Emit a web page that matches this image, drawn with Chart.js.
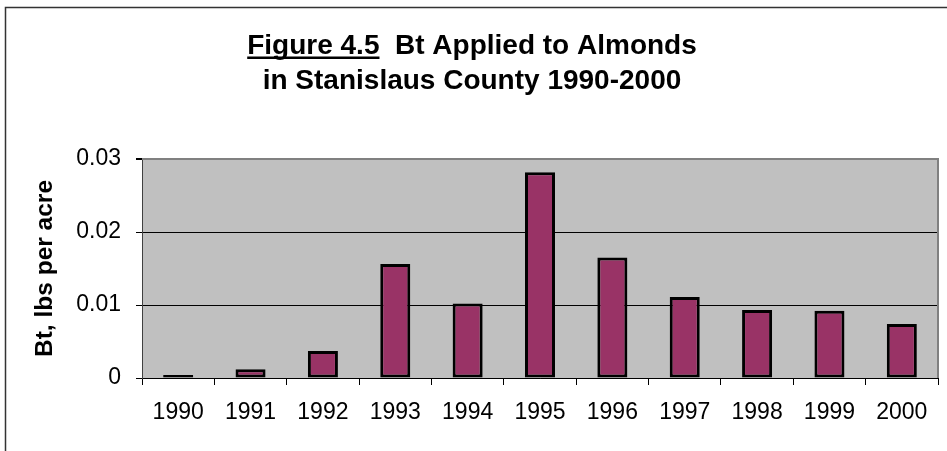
<!DOCTYPE html>
<html>
<head>
<meta charset="utf-8">
<script src="https://cdn.jsdelivr.net/npm/chart.js@4/dist/chart.umd.min.js"></script>
<style>
  body { margin: 0; background: #fff; }
  #wrap { width: 947px; height: 451px; }
</style>
</head>
<body>
<div id="wrap"><canvas id="myChart" width="947" height="451"></canvas></div>
<script>
// data
var years = ['1990', '1991', '1992', '1993', '1994', '1995', '1996', '1997', '1998', '1999', '2000'];
var btPerAcre = [0.0004, 0.0012, 0.0037, 0.0156, 0.0102, 0.0282, 0.0165, 0.0111, 0.0093, 0.0092, 0.0074];
var yTicks = [0, 0.01, 0.02, 0.03];
var titleLine1a = 'Figure 4.5';
var titleLine1b = '  Bt Applied to Almonds';
var titleLine2 = 'in Stanislaus County 1990-2000';
var yTitle = 'Bt, lbs per acre';

var FONT = '"Liberation Sans", Arial, sans-serif';

// grey plot area, outer frame, title with underlined figure number
var excelLook = {
	id: 'excelLook',
	beforeDraw: function (chart) {
		var ctx = chart.ctx;
		var a = chart.chartArea;
		ctx.save();
		ctx.fillStyle = '#fff';
		ctx.fillRect(0, 0, chart.width, chart.height);
		ctx.fillStyle = '#c0c0c0';
		ctx.fillRect(a.left, a.top, a.right - a.left, a.bottom - a.top);
		ctx.restore();
	},
	beforeDatasetsDraw: function (chart) {
		var ctx = chart.ctx;
		var a = chart.chartArea;
		ctx.save();
		ctx.strokeStyle = '#808080';
		ctx.lineWidth = 2;
		ctx.beginPath();
		ctx.moveTo(a.left, a.top);
		ctx.lineTo(a.right, a.top);
		ctx.lineTo(a.right, a.bottom);
		ctx.stroke();
		ctx.restore();
	},
	afterDraw: function (chart) {
		var ctx = chart.ctx;
		ctx.save();
		// outer frame
		ctx.strokeStyle = '#333';
		ctx.lineWidth = 1.5;
		ctx.strokeRect(5.5, 7.5, 1200, 1200);
		// title
		var cx = 472;
		ctx.fillStyle = '#000';
		ctx.font = 'bold 28px ' + FONT;
		ctx.textBaseline = 'alphabetic';
		var wa = ctx.measureText(titleLine1a).width;
		var wb = ctx.measureText(titleLine1b).width;
		var x0 = cx - (wa + wb) / 2;
		ctx.textAlign = 'left';
		ctx.fillText(titleLine1a, x0, 54);
		ctx.fillText(titleLine1b, x0 + wa, 54);
		ctx.fillRect(x0, 56.5, wa, 2.5);
		ctx.textAlign = 'center';
		ctx.fillText(titleLine2, cx, 89);
		ctx.restore();
	}
};

var ctx = document.getElementById('myChart').getContext('2d');
var chart = new Chart(ctx, {
	type: 'bar',
	data: {
		labels: years,
		datasets: [{
			data: btPerAcre,
			backgroundColor: '#993366',
			borderColor: '#000',
			borderWidth: 3,
			borderSkipped: false,
			barPercentage: 0.415,
			categoryPercentage: 1
		}]
	},
	options: {
		responsive: false,
		animation: false,
		layout: {
			padding: { top: 159, left: 0, right: 9, bottom: 0 }
		},
		plugins: {
			legend: { display: false },
			title: { display: false },
			tooltip: { enabled: false }
		},
		scales: {
			x: {
				offset: true,
				grid: {
					offset: true,
					drawOnChartArea: false,
					drawTicks: true,
					tickLength: 7,
					tickColor: '#000'
				},
				border: { color: '#000', width: 1 },
				ticks: {
					color: '#000',
					font: { family: FONT, size: 23 },
					padding: 14,
					maxRotation: 0,
					autoSkip: false
				},
				afterFit: function (scale) { scale.height = 73; }
			},
			y: {
				min: 0,
				max: 0.03,
				afterBuildTicks: function (scale) {
					scale.ticks = yTicks.map(function (v) { return { value: v }; });
				},
				grid: {
					color: function (c) { return c.tick && c.tick.value === 0.03 ? '#808080' : '#000'; },
					lineWidth: function (c) { return c.tick && c.tick.value === 0.03 ? 2 : 1; },
					tickLength: 6,
					tickColor: '#000'
				},
				border: { color: '#404040', width: 1 },
				ticks: {
					color: '#000',
					font: { family: FONT, size: 23 },
					padding: 15,
					callback: function (v) { return v === 0 ? '0' : v.toFixed(2); }
				},
				title: {
					display: true,
					text: yTitle,
					color: '#000',
					font: { family: FONT, size: 24.5, weight: 'bold' },
					padding: { top: 31, bottom: 0 }
				},
				afterFit: function (scale) { scale.width = 142; }
			}
		}
	},
	plugins: [excelLook]
});
</script>
</body>
</html>
